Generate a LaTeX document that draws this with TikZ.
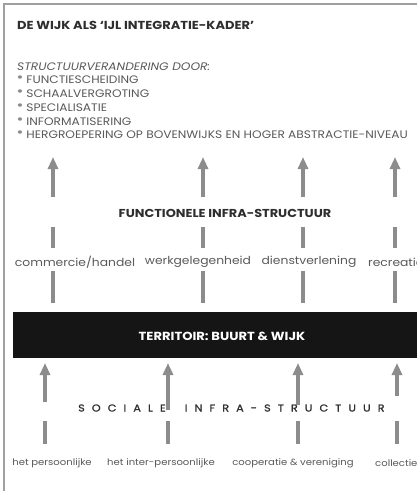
\documentclass[tikz,border=0pt]{standalone}
\usepackage{fontspec}
\setmainfont{Poppins}[FakeStretch=1.12]
\usetikzlibrary{arrows.meta}
\definecolor{txtgray}{HTML}{5A5A5A}
\definecolor{titlegray}{HTML}{2E2E2E}
\definecolor{arrgray}{HTML}{8C8C8C}
\definecolor{framegray}{HTML}{A0A0A0}
\definecolor{barblack}{HTML}{151515}
\tikzset{
  txt/.style={font=\fontsize{10.9}{12}\selectfont, text=txtgray, inner sep=0pt, anchor=west},
  lbl/.style={font=\fontsize{11}{12}\selectfont, text=txtgray, inner sep=0pt},
  slbl/.style={font=\fontsize{9}{10}\selectfont, text=txtgray, inner sep=0pt},
  heading/.style={font=\bfseries\fontsize{11.5}{12}\selectfont, text=titlegray, inner sep=0pt},
  uparrow/.style={line width=3.4pt, arrgray, -{Triangle[width=10pt,length=12pt]}},
  dashbar/.style={line width=3.4pt, arrgray},
}
\begin{document}
\begin{tikzpicture}[x=1pt,y=-1pt]
\useasboundingbox (0,0) rectangle (417,491);
\clip (0,0) rectangle (417,491);
\fill[white] (0,0) rectangle (417,491);
% frame
\draw[framegray, line width=1.5pt] (4,491) -- (4,4) -- (417,4);
% title and list
\node[heading, anchor=west, font=\bfseries\fontsize{11.6}{12}\selectfont] (title) at (17,25) {DE WIJK ALS `IJL INTEGRATIE-KADER'};
\node[txt, font=\itshape\fontsize{10.9}{12}\selectfont] (sub) at (17,67) {STRUCTUURVERANDERING DOOR:};
\node[txt] (b1) at (17,80) {* FUNCTIESCHEIDING};
\node[txt] (b2) at (17,94) {* SCHAALVERGROTING};
\node[txt] (b3) at (17,108) {* SPECIALISATIE};
\node[txt] (b4) at (17,122) {* INFORMATISERING};
\node[txt] (b5) at (17,135) {* HERGROEPERING OP BOVENWIJKS EN HOGER ABSTRACTIE-NIVEAU};
% functional infrastructure
\node[heading] (func) at (225,213) {FUNCTIONELE INFRA-STRUCTUUR};
\node[lbl] (l1) at (75,262) {commercie/handel};
\node[lbl] (l2) at (198,262) {werkgelegenheid};
\node[lbl] (l3) at (309,262) {dienstverlening};
\node[lbl, anchor=west] (l4) at (368,262) {recreatie};
% territory bar
\node[fill=barblack, minimum width=420pt, minimum height=46pt, anchor=north west, inner sep=0pt] (bar) at (13,312) {};
\node[text=white, font=\bfseries\fontsize{11.7}{12}\selectfont, inner sep=0pt] (terr) at (222,336) {TERRITOIR: BUURT \& WIJK};
% top arrows
\foreach \i/\x in {1/53,2/203,3/303,4/395}{
  \coordinate (ta\i) at (\x,157);
  \coordinate (tb\i) at (\x,197);
  \coordinate (td\i) at (\x,227);
  \coordinate (te\i) at (\x,248);
  \coordinate (tf\i) at (\x,271);
  \coordinate (tg\i) at (\x,303);
  \draw[uparrow] (tb\i) -- (ta\i);
  \draw[dashbar] (td\i) -- (te\i);
  \draw[dashbar] (tf\i) -- (tg\i);
}
% social infrastructure
\node[font=\fontsize{10}{12}\selectfont\addfontfeature{LetterSpace=71,FakeBold=1.2}, text=titlegray, inner sep=0pt, anchor=west] (soc) at (78,408) {SOCIALE\hspace{19pt}INFRA-STRUCTUUR};
\foreach \i/\x/\e in {1/45/402,2/168/410,3/298/405,4/397/396}{
  \coordinate (ba\i) at (\x,363);
  \coordinate (bb\i) at (\x,\e);
  \coordinate (bd\i) at (\x,421);
  \coordinate (be\i) at (\x,444);
  \draw[uparrow] (bb\i) -- (ba\i);
  \draw[dashbar] (bd\i) -- (be\i);
}
\node[slbl] (s1) at (52,463) {het persoonlijke};
\node[slbl] (s2) at (161,463) {het inter-persoonlijke};
\node[slbl] (s3) at (293,463) {cooperatie \& vereniging};
\node[slbl, anchor=west] (s4) at (375,463) {collectie};
\end{tikzpicture}
\end{document}
